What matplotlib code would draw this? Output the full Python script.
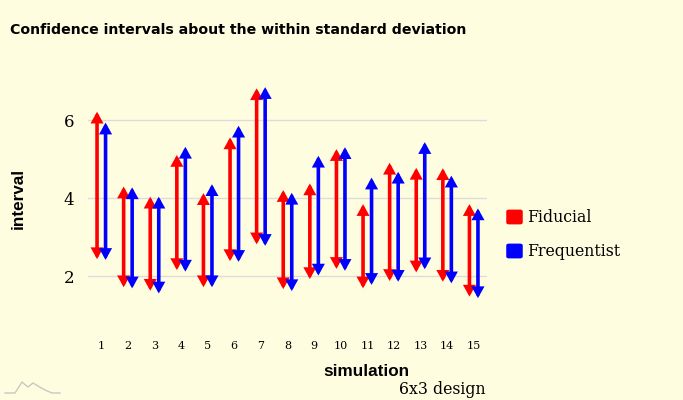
import matplotlib.pyplot as plt
from matplotlib.patches import FancyBboxPatch
import numpy as np

simulations = list(range(1, 16))
fiducial_lower = [2.44, 1.72, 1.63, 2.16, 1.72, 2.39, 2.82, 1.67, 1.93, 2.19, 1.69, 1.88, 2.10, 1.86, 1.48]
fiducial_upper = [6.22, 4.30, 4.04, 5.11, 4.13, 5.56, 6.82, 4.21, 4.38, 5.26, 3.85, 4.91, 4.78, 4.77, 3.85]
frequentist_lower = [2.42, 1.69, 1.56, 2.12, 1.72, 2.37, 2.78, 1.62, 2.02, 2.14, 1.78, 1.86, 2.18, 1.82, 1.44]
frequentist_upper = [5.94, 4.28, 4.04, 5.32, 4.36, 5.86, 6.85, 4.14, 5.09, 5.31, 4.53, 4.68, 5.44, 4.58, 3.74]
y_ticks = [2, 4, 6]

bg = '#fffde0'
W, H = 683, 400
fig = plt.figure(figsize=(W / 100, H / 100), dpi=100, facecolor=bg)
ax = fig.add_axes([88 / W, 1 - 330 / H, (487 - 88) / W, (330 - 60) / H])
ax.set_facecolor(bg)

x = np.arange(len(simulations))
arrow_style = '<|-|>,head_length=0.45,head_width=0.25'


def draw_interval(xpos, lo, hi, color):
    ax.annotate('', xy=(xpos, lo), xytext=(xpos, hi),
                arrowprops=dict(arrowstyle=arrow_style, mutation_scale=10,
                                lw=2.6, color=color, shrinkA=0, shrinkB=0,
                                joinstyle='miter'))


off = 0.16
for i in x:
    draw_interval(i - off, fiducial_lower[i], fiducial_upper[i], '#ff0000')
    draw_interval(i + off, frequentist_lower[i], frequentist_upper[i], '#0000ff')

ax.set_xlim(-0.5, len(simulations) - 0.5)
ax.set_ylim(0.623, 7.546)
ax.set_yticks(y_ticks)
ax.set_yticklabels([str(t) for t in y_ticks], fontfamily='DejaVu Serif', fontsize=12)
ax.set_xticks(x)
ax.set_xticklabels([str(s) for s in simulations], fontfamily='DejaVu Serif', fontsize=8)
ax.tick_params(axis='y', length=0, pad=10)
ax.tick_params(axis='x', length=0, pad=8)
ax.grid(axis='y', color='#dcdcdc', lw=1)
ax.set_axisbelow(True)
for s in ax.spines.values():
    s.set_visible(False)

fig.text(10 / W, 1 - 30 / H, 'Confidence intervals about the within standard deviation',
         fontfamily='DejaVu Sans', fontweight='bold', fontsize=10.2, va='center', ha='left')
fig.text(18 / W, 1 - 198 / H, 'interval', rotation=90, fontfamily='Liberation Sans',
         fontweight='bold', fontsize=12.3, va='center', ha='center')
fig.text(366 / W, 1 - 371 / H, 'simulation', fontfamily='Liberation Sans',
         fontweight='bold', fontsize=12.3, va='center', ha='center')
fig.text(486 / W, 1 - 390 / H, '6x3 design', fontfamily='DejaVu Serif',
         fontsize=11.3, va='center', ha='right')

# legend
for k, (lab, col) in enumerate([('Fiducial', '#ff0000'), ('Frequentist', '#0000ff')]):
    yc = 1 - (217 + 34 * k) / H
    fig.patches.append(FancyBboxPatch((509 / W, yc - 5.5 / H), 11 / W, 11 / H,
                                      boxstyle='round,pad=0.003',
                                      transform=fig.transFigure, color=col,
                                      figure=fig))
    fig.text(527 / W, yc, lab, fontfamily='DejaVu Serif', fontsize=11.3,
             va='center', ha='left')

# small logo
lx = np.array([5, 15, 22, 28, 33, 38, 45, 52, 60]) / W
ly = 1 - np.array([393, 393, 382, 387, 383, 386, 390, 393, 393]) / H
fig.lines.append(plt.Line2D(lx, ly, transform=fig.transFigure, color='#c8c8c0', lw=1))

fig.savefig('out.png', dpi=100, facecolor=bg)
